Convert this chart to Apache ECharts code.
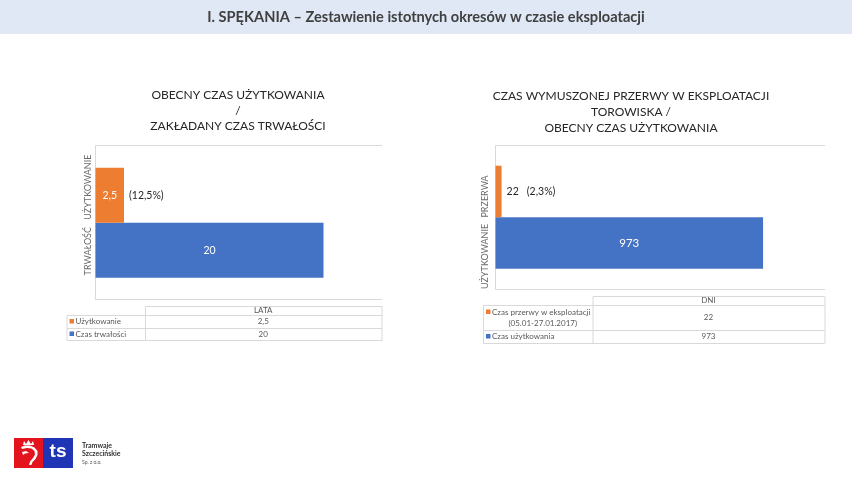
<!DOCTYPE html>
<html><head><meta charset="utf-8">
<script src="https://cdn.jsdelivr.net/npm/echarts@6/dist/echarts.min.js"></script>
<style>html,body{margin:0;padding:0;background:#fff}#c{width:852px;height:479px}</style>
</head><body><div id="c"></div>
<script>
// ---------- data ----------
const pageTitle = 'I. SPĘKANIA – Zestawienie istotnych okresów w czasie eksploatacji';

const leftTitle = ['OBECNY CZAS UŻYTKOWANIA', '/', 'ZAKŁADANY CZAS TRWAŁOŚCI'];
const leftCategories = ['TRWAŁOŚĆ', 'UŻYTKOWANIE'];
const leftValues = [20, 2.5];
const leftShares = ['', '(12,5%)'];
const leftUnit = 'LATA';
const leftRowNames = [['Czas trwałości'], ['Użytkowanie']];
const leftAxisMax = 25;

const rightTitle = ['CZAS WYMUSZONEJ PRZERWY W EKSPLOATACJI', 'TOROWISKA /', 'OBECNY CZAS UŻYTKOWANIA'];
const rightCategories = ['UŻYTKOWANIE', 'PRZERWA'];
const rightValues = [973, 22];
const rightShares = ['', '(2,3%)'];
const rightUnit = 'DNI';
const rightRowNames = [['Czas użytkowania'], ['Czas przerwy w eksploatacji', '(05.01-27.01.2017)']];
const rightAxisMax = 1200;

const logoLines = ['Tramwaje', 'Szczecińskie', 'Sp. z o.o.'];

// ---------- style ----------
const BLUE = '#4472C4', ORANGE = '#ED7D31';
const barColors = [BLUE, ORANGE];
const FONT = 'Lato, "Liberation Sans", sans-serif';
const GRID_LINE = '#d9d9d9';
const fmt = v => String(v).replace('.', ',');
// per-label nudges of the rotated category labels (padding in label space)
const leftLabelPad = [[0, 2, 0, 0], [0, 0, 0, 16]];
const rightLabelPad = [[0, 27, 0, 0], [0, 10, 0, 0]];

const chart = echarts.init(document.getElementById('c'), null, {renderer: 'canvas'});

function barSeries(idx, values, showInside, insideSize) {
  return {
    type: 'bar', xAxisIndex: idx, yAxisIndex: idx,
    barCategoryGap: '0%', barGap: '-100%',
    silent: true,
    data: values.map((v, i) => ({
      value: v,
      itemStyle: {color: barColors[i]},
      label: {
        show: showInside[i], position: 'inside', color: '#ffffff',
        fontSize: insideSize, fontFamily: FONT, formatter: () => fmt(v)
      }
    }))
  };
}
function shareSeries(idx, values, shares, withValue) {
  return {
    type: 'bar', xAxisIndex: idx, yAxisIndex: idx,
    barCategoryGap: '0%', barGap: '-100%',
    silent: true,
    data: values.map((v, i) => ({
      value: v,
      itemStyle: {color: 'rgba(0,0,0,0)'},
      label: {
        show: shares[i] !== '', position: 'right', distance: 5,
        color: '#262626', fontSize: 10.5, fontFamily: FONT,
        formatter: () => (withValue ? fmt(v) + '   ' : '') + shares[i]
      }
    }))
  };
}

function table(x0, xs, x1, ys, unit, names, values) {
  const els = [];
  const txt = {fill: '#595959', fontSize: 8, fontFamily: FONT};
  els.push({type: 'rect', shape: {x: xs + .5, y: ys[0] + .5, width: x1 - xs, height: ys[1] - ys[0]},
    style: {fill: 'none', stroke: GRID_LINE, lineWidth: 1}});
  els.push({type: 'text', x: (xs + x1) / 2, y: (ys[0] + ys[1]) / 2,
    style: Object.assign({text: unit, align: 'center', verticalAlign: 'middle'}, txt)});
  const order = values.map((_, i) => i).reverse();
  order.forEach((si, r) => {
    const yt = ys[r + 1], yb = ys[r + 2];
    els.push({type: 'rect', shape: {x: x0 + .5, y: yt + .5, width: x1 - x0, height: yb - yt},
      style: {fill: 'none', stroke: GRID_LINE, lineWidth: 1}});
    els.push({type: 'line', shape: {x1: xs + .5, y1: yt, x2: xs + .5, y2: yb},
      style: {stroke: GRID_LINE, lineWidth: 1}});
    const lines = names[si];
    const lh = 11;
    const firstY = (yt + yb) / 2 - (lines.length - 1) * lh / 2;
    els.push({type: 'rect', shape: {x: x0 + 3, y: firstY - 2.5, width: 4.5, height: 4.5},
      style: {fill: barColors[si]}});
    els.push({type: 'text', x: x0 + 9, y: firstY,
      style: Object.assign({text: lines[0], align: 'left', verticalAlign: 'middle'}, txt)});
    for (let k = 1; k < lines.length; k++) {
      els.push({type: 'text', x: (x0 + xs) / 2 + 5, y: firstY + k * lh,
        style: Object.assign({text: lines[k], align: 'center', verticalAlign: 'middle'}, txt)});
    }
    els.push({type: 'text', x: (xs + x1) / 2, y: (yt + yb) / 2,
      style: Object.assign({text: fmt(values[si]), align: 'center', verticalAlign: 'middle'}, txt)});
  });
  return els;
}

const graphics = [
  {type: 'rect', shape: {x: 0, y: 0, width: 852, height: 34}, style: {fill: '#dfe8f4'}, z: -1},
  {type: 'text', x: 426, y: 17.5, style: {text: pageTitle, align: 'center', verticalAlign: 'middle',
    fill: '#404040', fontSize: 14.6, fontWeight: 'bold', fontFamily: FONT}},
  {type: 'text', x: 238, y: 87.5, style: {text: leftTitle.join('\n'), align: 'center', verticalAlign: 'top',
    fill: '#262626', fontSize: 12, lineHeight: 15.5, fontFamily: FONT}},
  {type: 'text', x: 631, y: 88.5, style: {text: rightTitle.join('\n'), align: 'center', verticalAlign: 'top',
    fill: '#262626', fontSize: 12, lineHeight: 16, fontFamily: FONT}},
  {type: 'polyline', shape: {points: [[382, 145.5], [95.5, 145.5], [95.5, 299.5], [382, 299.5]]},
    style: {stroke: GRID_LINE, lineWidth: 1, fill: 'none'}},
  {type: 'polyline', shape: {points: [[825, 145.5], [495.5, 145.5], [495.5, 289.5], [825, 289.5]]},
    style: {stroke: GRID_LINE, lineWidth: 1, fill: 'none'}},
  ...table(66.5, 145, 381.5, [306, 315, 328, 340], leftUnit, leftRowNames, leftValues),
  ...table(483, 592.5, 824.5, [296, 305, 330, 343], rightUnit, rightRowNames, rightValues),
  // logo
  {type: 'rect', shape: {x: 14, y: 438, width: 29, height: 30}, style: {fill: '#e3141d'}},
  {type: 'rect', shape: {x: 43, y: 438, width: 30, height: 30}, style: {fill: '#1f35b5'}},
  {type: 'polygon', x: 14, y: 438, shape: {points: [[9, 7], [10, 3], [12, 6], [14.5, 2], [17, 6], [19, 3], [20, 7]]},
    style: {fill: '#ffffff'}},
  {type: 'polygon', x: 14, y: 438, shape: {points: [[7, 9], [11, 7.5], [16, 7.5], [20.5, 9.5], [23.5, 13], [23.5, 17],
    [21.5, 21], [18.5, 24], [17.5, 27], [15, 27], [16, 23.5], [19, 20], [21, 16.5], [20.5, 13], [17.5, 10.5], [13, 10], [8, 11]]},
    style: {fill: '#ffffff'}},
  {type: 'polygon', x: 14, y: 438, shape: {points: [[8, 14], [12, 13], [15, 15], [11, 15.5], [9, 17]]},
    style: {fill: '#ffffff'}},
  {type: 'text', x: 58, y: 452, style: {text: 'ts', align: 'center', verticalAlign: 'middle',
    fill: '#ffffff', fontSize: 19, fontWeight: 'bold', fontFamily: '"Liberation Sans", Arial, sans-serif'}},
  {type: 'text', x: 82, y: 446, style: {text: logoLines[0], align: 'left', verticalAlign: 'middle',
    fill: '#333333', fontSize: 7, fontWeight: 'bold', fontFamily: FONT}},
  {type: 'text', x: 82, y: 454, style: {text: logoLines[1], align: 'left', verticalAlign: 'middle',
    fill: '#333333', fontSize: 7, fontWeight: 'bold', fontFamily: FONT}},
  {type: 'text', x: 82, y: 462.5, style: {text: logoLines[2], align: 'left', verticalAlign: 'middle',
    fill: '#555555', fontSize: 5, fontFamily: FONT}}
];

const yAxisBase = {
  type: 'category', axisLine: {show: false}, axisTick: {show: false}, splitLine: {show: false},
  axisLabel: {rotate: 90, interval: 0, hideOverlap: false, fontSize: 9, color: '#6b6b6b', fontFamily: FONT}
};
const catData = (cats, pads) => cats.map((c, i) => ({value: c, textStyle: {padding: pads[i]}}));

chart.setOption({
  animation: false,
  backgroundColor: '#ffffff',
  grid: [
    {left: 95.5, top: 167.7, width: 285, height: 110, outerBoundsMode: 'none', containLabel: false},
    {left: 495.5, top: 165.7, width: 330, height: 103, outerBoundsMode: 'none', containLabel: false}
  ],
  xAxis: [
    {type: 'value', gridIndex: 0, min: 0, max: leftAxisMax, show: false},
    {type: 'value', gridIndex: 1, min: 0, max: rightAxisMax, show: false}
  ],
  yAxis: [
    Object.assign({}, yAxisBase, {gridIndex: 0, data: catData(leftCategories, leftLabelPad),
      axisLabel: Object.assign({}, yAxisBase.axisLabel, {margin: 3})}),
    Object.assign({}, yAxisBase, {gridIndex: 1, data: catData(rightCategories, rightLabelPad),
      axisLabel: Object.assign({}, yAxisBase.axisLabel, {margin: 6})})
  ],
  series: [
    barSeries(0, leftValues, [true, true], 10.5),
    shareSeries(0, leftValues, leftShares, false),
    barSeries(1, rightValues, [true, false], 11.5),
    shareSeries(1, rightValues, rightShares, true)
  ],
  graphic: graphics
});
</script>
</body></html>
